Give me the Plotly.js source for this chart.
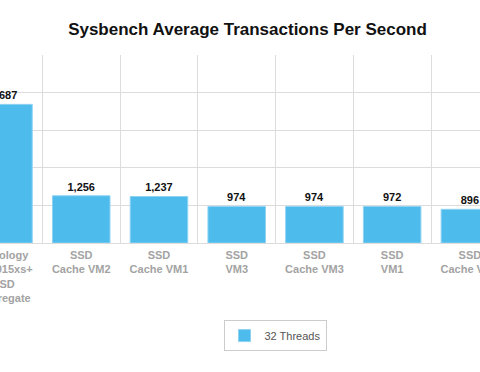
<!DOCTYPE html>
<html>
<head>
<meta charset="utf-8">
<script src="https://cdn.plot.ly/plotly-3.0.1.min.js"></script>
<style>html,body{margin:0;padding:0;background:#fff;}#chart{width:480px;height:372px;}</style>
</head>
<body>
<div id="chart"></div>
<script>
var categories = [
  "Synology<br>DS2015xs+<br>SSD<br>Aggregate",
  "SSD<br>Cache VM2",
  "SSD<br>Cache VM1",
  "SSD<br>VM3",
  "SSD<br>Cache VM3",
  "SSD<br>VM1",
  "SSD<br>Cache VM4"
];
var threads32 = [3687, 1256, 1237, 974, 974, 972, 896];
var seriesName = "32 Threads";

var trace = {
  type: "bar",
  x: categories,
  y: threads32,
  name: seriesName,
  marker: {color: "#4dbbeb", line: {color: "#8ed2f2", width: 1}},
  texttemplate: "%{y:,}",
  textposition: "outside",
  textfont: {family: "Liberation Sans, Arial, sans-serif", size: 11, color: "#111", weight: "bold"},
  hoverinfo: "none"
};

var layout = {
  width: 480, height: 372,
  margin: {l: 0, r: 0, t: 55, b: 129},
  paper_bgcolor: "#fff", plot_bgcolor: "#fff",
  font: {family: "Liberation Sans, Arial, sans-serif"},
  title: {
    text: "<b>Sysbench Average Transactions Per Second</b>",
    font: {family: "Liberation Sans, Arial, sans-serif", size: 17, color: "#111"},
    x: 0.5156, xanchor: "center",
    y: 1 - 29.5/372, yanchor: "middle", yref: "container"
  },
  bargap: 0.26,
  showlegend: true,
  legend: {
    orientation: "h",
    x: 275/480, xanchor: "center",
    y: -0.41, yanchor: "top",
    bordercolor: "#cccccc", borderwidth: 1,
    font: {size: 11, color: "#555"}
  },
  xaxis: {
    type: "category",
    range: [-0.045, 6.13],
    tickson: "boundaries",
    showgrid: true, gridcolor: "#dcdcdc", gridwidth: 1,
    ticks: "",
    showline: false,
    tickangle: 0,
    ticklabelstandoff: 4,
    tickfont: {family: "Liberation Sans, Arial, sans-serif", size: 11, color: "#a3a3a3", weight: "bold"},
    fixedrange: true
  },
  yaxis: {
    range: [0, 5000],
    dtick: 1000,
    showticklabels: false,
    showgrid: true, gridcolor: "#dcdcdc", gridwidth: 1,
    zeroline: true, zerolinecolor: "#dcdcdc", zerolinewidth: 1,
    fixedrange: true
  }
};

Plotly.newPlot("chart", [trace], layout, {displayModeBar: false, staticPlot: true});
</script>
</body>
</html>
